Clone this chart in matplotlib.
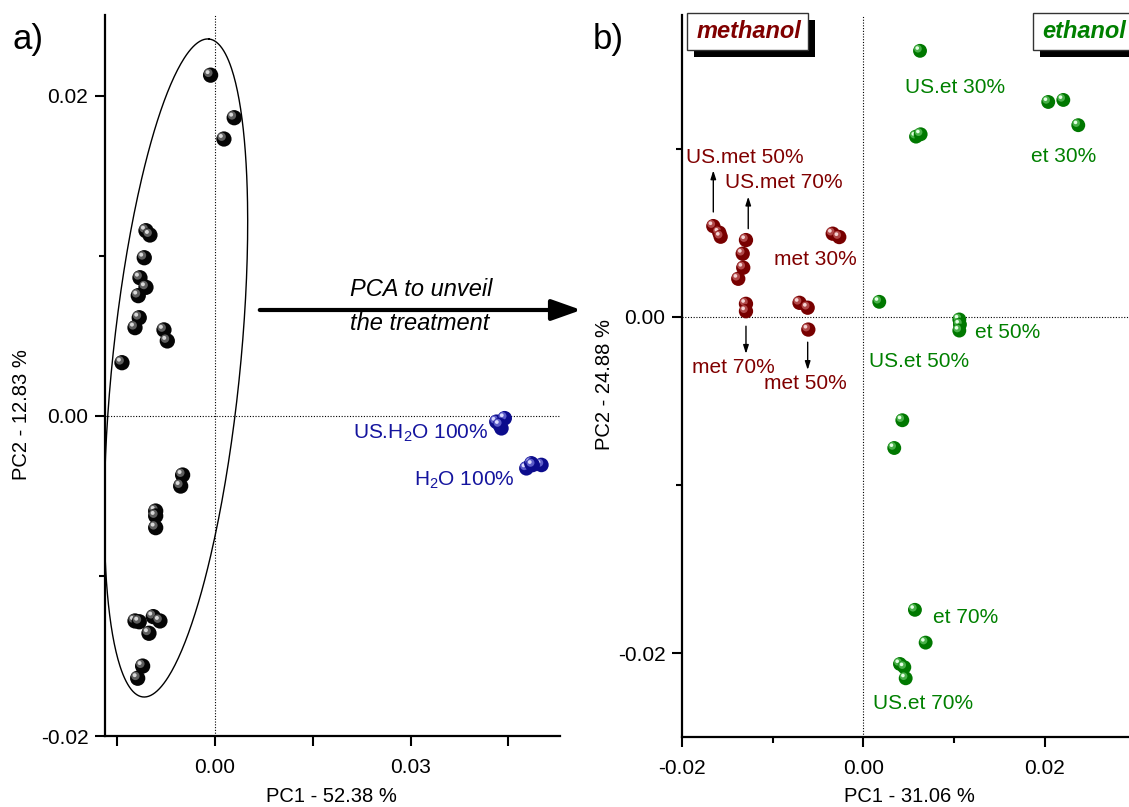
import numpy as np
import matplotlib
matplotlib.use('Agg')
import matplotlib.pyplot as plt
import matplotlib.transforms as mtransforms
from matplotlib.patches import FancyArrowPatch, Rectangle

plt.rcParams['font.family'] = ['Liberation Sans', 'DejaVu Sans']
plt.rcParams['mathtext.fontset'] = 'custom'
plt.rcParams['mathtext.rm'] = 'Liberation Sans'
plt.rcParams['mathtext.it'] = 'Liberation Sans:italic'
plt.rcParams['mathtext.bf'] = 'Liberation Sans:bold'

# ---------------- data: panel a ----------------
raw_x = [-0.00066, 0.00296, 0.00138, -0.01057, -0.00996, -0.01083, -0.01149, -0.01057,
         -0.01175, -0.01160, -0.01225, -0.00781, -0.00730, -0.01425, -0.00495, -0.00525,
         -0.00908, -0.00908, -0.00908, -0.01225, -0.01160, -0.00945, -0.00843, -0.01011,
         -0.01108, -0.01184]
raw_y = [0.02130, 0.01864, 0.01731, 0.01158, 0.01131, 0.00989, 0.00864, 0.00804,
         0.00752, 0.00614, 0.00552, 0.00538, 0.00469, 0.00333, -0.00369, -0.00438,
         -0.00594, -0.00625, -0.00698, -0.01281, -0.01286, -0.01254, -0.01281, -0.01358,
         -0.01563, -0.01639]
us_h2o_x = [0.04315, 0.04442, 0.04392, 0.04366]
us_h2o_y = [-0.00036, -0.00014, -0.00077, -0.00056]
h2o_x = [0.04775, 0.04851, 0.05005, 0.04871]
h2o_y = [-0.00327, -0.00296, -0.00306, -0.00306]

# confidence ellipse (centre, semi-axis vectors)
ell_center = (-0.00597, 0.00300)
ell_major = (0.00506, 0.02056)
ell_minor = (0.00976, -0.00040)

# ---------------- data: panel b ----------------
met_x = [-0.01655, -0.01589, -0.01574, -0.01295, -0.01331, -0.01325, -0.01380,
         -0.01295, -0.01295, -0.00705, -0.00615, -0.00608, -0.00339, -0.00267]
met_y = [0.00539, 0.00500, 0.00476, 0.00456, 0.00375, 0.00292, 0.00226,
         0.00077, 0.00033, 0.00083, 0.00054, -0.00076, 0.00494, 0.00474]
et_x = [0.00623, 0.00579, 0.00630, 0.02036, 0.02202, 0.02367, 0.00174, 0.01056,
        0.01063, 0.01056, 0.00428, 0.00339, 0.00567, 0.00685, 0.00402, 0.00450, 0.00465]
et_y = [0.01581, 0.01071, 0.01085, 0.01277, 0.01289, 0.01139, 0.00089, -0.00016,
        -0.00046, -0.00082, -0.00615, -0.00780, -0.01742, -0.01937, -0.02064, -0.02083, -0.02149]

met_labels = ['US.met 50%', 'US.met 70%', 'met 30%', 'met 70%', 'met 50%']
et_labels = ['US.et 30%', 'et 30%', 'et 50%', 'US.et 50%', 'et 70%', 'US.et 70%']

RED = '#800000'
GREEN = '#008000'
BLUE = '#14149e'

W, H = 1129, 807
fig = plt.figure(figsize=(W / 100, H / 100), dpi=100)

axa = fig.add_axes([105 / W, 71 / H, 455 / W, 721 / H])
axb = fig.add_axes([682 / W, 70 / H, 447 / W, 722 / H])


def spheres(ax, xs, ys, base, mid, hi, d=10.8, z=3):
    t1 = mtransforms.offset_copy(ax.transData, fig=fig, x=-d * 0.15, y=d * 0.15, units='points')
    t2 = mtransforms.offset_copy(ax.transData, fig=fig, x=-d * 0.2, y=d * 0.2, units='points')
    for i, (x, y) in enumerate(zip(xs, ys)):
        zz = z + i * 0.01
        ax.scatter([x], [y], s=d ** 2, c=base, edgecolors='none', zorder=zz)
        ax.scatter([x], [y], s=(d * 0.55) ** 2, c=mid, edgecolors='none', transform=t1, zorder=zz + 0.003)
        ax.scatter([x], [y], s=(d * 0.26) ** 2, c=hi, edgecolors='none', transform=t2, zorder=zz + 0.006)


def style(ax):
    for s in ['top', 'right']:
        ax.spines[s].set_visible(False)
    for s in ['left', 'bottom']:
        ax.spines[s].set_linewidth(1.6)
    ax.tick_params(which='major', direction='out', length=7, width=1.5, labelsize=15)
    ax.tick_params(axis='x', which='major', pad=9)
    ax.tick_params(axis='y', which='major', pad=5)
    ax.tick_params(which='minor', direction='out', length=4.5, width=1.5)
    ax.axhline(0, color='black', lw=0.8, ls=(0, (1, 1.5)), zorder=1)
    ax.axvline(0, color='black', lw=0.8, ls=(0, (1, 1.5)), zorder=1)


# ---------------- panel a ----------------
style(axa)
axa.set_xlim(-0.01685, 0.0529)
axa.set_ylim(-0.02, 0.02506)
axa.set_xticks([-0.015, 0.0, 0.015, 0.03, 0.045])
axa.set_xticklabels(['', '0.00', '', '0.03', ''])
axa.set_yticks([-0.02, 0.0, 0.02])
axa.set_yticklabels(['-0.02', '0.00', '0.02'])
axa.set_yticks([-0.01, 0.01], minor=True)

th = np.linspace(0, 2 * np.pi, 400)
ex = ell_center[0] + ell_major[0] * np.cos(th) + ell_minor[0] * np.sin(th)
ey = ell_center[1] + ell_major[1] * np.cos(th) + ell_minor[1] * np.sin(th)
axa.plot(ex, ey, color='black', lw=1.0, zorder=2)

spheres(axa, raw_x, raw_y, '#050505', '#5e5e5e', '#d8d8d8', d=11)
spheres(axa, us_h2o_x, us_h2o_y, '#0c0c8c', '#5c5cc8', '#dcdcff', d=10.5)
spheres(axa, h2o_x, h2o_y, '#0c0c8c', '#5c5cc8', '#dcdcff', d=10.5)

axa.text(0.0419, -0.0011, 'US.H$_2$O 100%', color=BLUE, fontsize=15, ha='right', va='center')
axa.text(0.0460, -0.00405, 'H$_2$O 100%', color=BLUE, fontsize=15, ha='right', va='center')

# ---------------- panel b ----------------
style(axb)
axb.set_xlim(-0.02, 0.02926)
axb.set_ylim(-0.02498, 0.01794)
axb.set_xticks([-0.02, 0.0, 0.02])
axb.set_xticklabels(['-0.02', '0.00', '0.02'])
axb.set_xticks([-0.01, 0.01], minor=True)
axb.set_yticks([-0.02, 0.0])
axb.set_yticklabels(['-0.02', '0.00'])
axb.set_yticks([-0.01, 0.01], minor=True)

spheres(axb, met_x, met_y, '#780000', '#b04848', '#f4d4d4', d=10.3)
spheres(axb, et_x, et_y, '#007800', '#48b048', '#e4ffe4', d=10.0)

met_pos = [(-0.01956, 0.00948), (-0.01526, 0.00798), (-0.00983, 0.00341),
           (-0.01893, -0.00304), (-0.01096, -0.00399)]
for lab, (x, y) in zip(met_labels, met_pos):
    axb.text(x, y, lab, color=RED, fontsize=15, ha='left', va='center', zorder=6)
et_pos = [(0.00457, 0.01362), (0.01842, 0.00950), (0.01229, -0.00093),
          (0.00064, -0.00264), (0.00763, -0.01786), (0.00105, -0.02298)]
for lab, (x, y) in zip(et_labels, et_pos):
    axb.text(x, y, lab, color=GREEN, fontsize=15, ha='left', va='center', zorder=6)

arrows_b = [((-0.01655, 0.00623), (-0.01655, 0.00870)),
            ((-0.01270, 0.00524), (-0.01270, 0.00714)),
            ((-0.01295, -0.00056), (-0.01295, -0.00220)),
            ((-0.00615, -0.00151), (-0.00615, -0.00316))]
for (p0, p1) in arrows_b:
    axb.annotate('', xy=p1, xytext=p0,
                 arrowprops=dict(arrowstyle='-|>,head_length=0.5,head_width=0.16',
                                 color='black', lw=1.0, shrinkA=0, shrinkB=0))

# boxes with shadow (figure pixel coords)
def fbox(x0, x1, ytop, ybot, text, color, xc):
    sh = 7
    fig.add_artist(Rectangle(((x0 + sh) / W, 1 - (ybot + sh) / H), (x1 - x0) / W, (ybot - ytop) / H,
                             transform=fig.transFigure, fc='black', ec='black', lw=0, zorder=10))
    fig.add_artist(Rectangle((x0 / W, 1 - ybot / H), (x1 - x0) / W, (ybot - ytop) / H,
                             transform=fig.transFigure, fc='white', ec='#333333', lw=1.0, zorder=11))
    fig.text(xc / W, 1 - (ytop + ybot) / 2 / H, text, color=color, fontsize=17,
             fontweight='bold', fontstyle='italic', ha='center', va='center', zorder=12)

fbox(687, 808, 13, 50, 'methanol', RED, 749)
fbox(1033, 1140, 13, 50, 'ethanol', GREEN, 1084)

# ---------------- figure-level annotations ----------------
fig.add_artist(FancyArrowPatch((257 / W, 1 - 310 / H), (584 / W, 1 - 310 / H),
                               transform=fig.transFigure,
                               arrowstyle='-|>,head_length=0.9,head_width=0.32',
                               mutation_scale=20, color='black', lw=3.0, zorder=10))
fig.text(350 / W, 1 - 290 / H, 'PCA to unveil', fontsize=17, fontstyle='italic',
         ha='left', va='center')
fig.text(350 / W, 1 - 324 / H, 'the treatment', fontsize=17, fontstyle='italic',
         ha='left', va='center')

fig.text(12 / W, 1 - 40 / H, 'a)', fontsize=25, ha='left', va='center')
fig.text(593 / W, 1 - 40 / H, 'b)', fontsize=25, ha='left', va='center')

fig.text(331 / W, 1 - 797 / H, 'PC1 - 52.38 %', fontsize=14.5, ha='center', va='center')
fig.text(909 / W, 1 - 797 / H, 'PC1 - 31.06 %', fontsize=14.5, ha='center', va='center')
fig.text(22 / W, 1 - 415 / H, 'PC2 - 12.83 %', fontsize=14.5, ha='center', va='center', rotation=90)
fig.text(605 / W, 1 - 385 / H, 'PC2 - 24.88 %', fontsize=14.5, ha='center', va='center', rotation=90)

fig.savefig('out.png', dpi=100)
